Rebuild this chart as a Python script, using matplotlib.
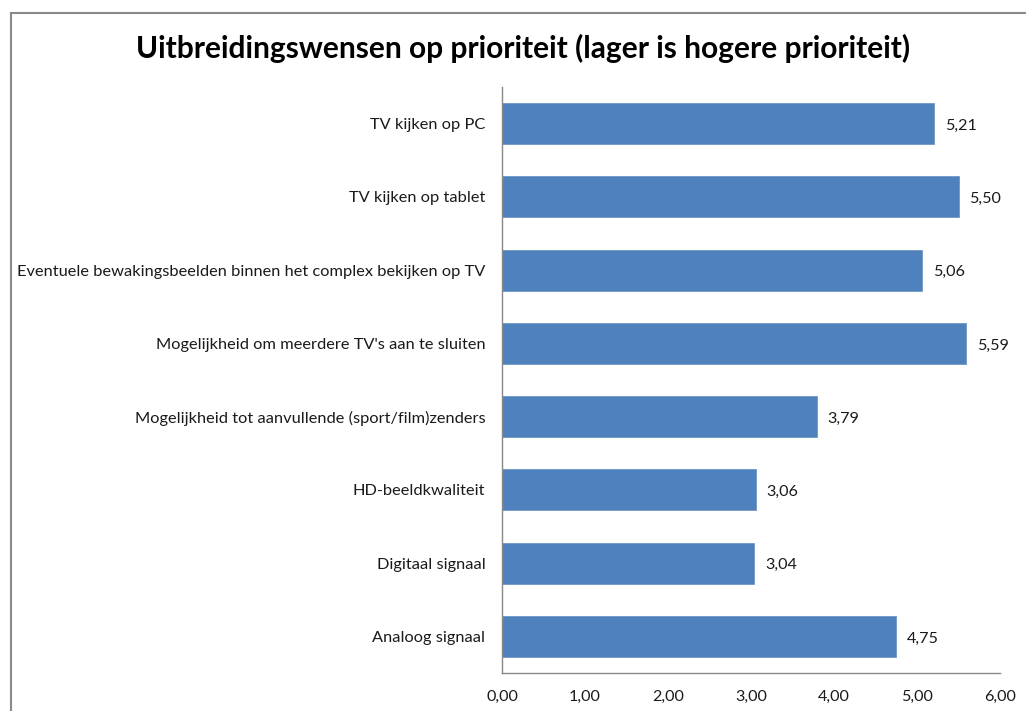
import matplotlib
matplotlib.use("Agg")
import matplotlib.pyplot as plt
from matplotlib.lines import Line2D

# Data (top to bottom as shown)
categories = [
    "TV kijken op PC",
    "TV kijken op tablet",
    "Eventuele bewakingsbeelden binnen het complex bekijken op TV",
    "Mogelijkheid om meerdere TV's aan te sluiten",
    "Mogelijkheid tot aanvullende (sport/film)zenders",
    "HD-beeldkwaliteit",
    "Digitaal signaal",
    "Analoog signaal",
]
values = [5.21, 5.50, 5.06, 5.59, 3.79, 3.06, 3.04, 4.75]
xticks = [0, 1, 2, 3, 4, 5, 6]

plt.rcParams['font.family'] = ['Lato', 'DejaVu Sans']

fig = plt.figure(figsize=(10.26, 7.11), dpi=100)
ax = fig.add_axes([502 / 1026, 38 / 711, 498 / 1026, 586 / 711])

pos = list(range(len(categories)))
ax.barh(pos, values, height=0.56, color="#4F81BD", edgecolor="#6F97C8", linewidth=0.6)
ax.set_ylim(len(categories) - 0.5, -0.5)
ax.set_xlim(0, 6)

ax.set_yticks(pos)
ax.set_yticklabels(categories, fontsize=11.8, color="#1a1a1a")
ax.set_xticks(xticks)
ax.set_xticklabels([f"{t:.2f}".replace(".", ",") for t in xticks], fontsize=11.6, color="#1a1a1a")
ax.tick_params(axis="y", length=0, pad=12)
ax.tick_params(axis="x", length=0, pad=12)

for s in ["top", "right"]:
    ax.spines[s].set_visible(False)
for s in ["left", "bottom"]:
    ax.spines[s].set_color("#888888")
    ax.spines[s].set_linewidth(1)

for p, v in zip(pos, values):
    ax.text(v + 0.13, p + 0.03, f"{v:.2f}".replace(".", ","), va="center", ha="left",
            fontsize=11.6, color="#1a1a1a")

fig.text(523 / 1026, 1 - 48 / 711, "Uitbreidingswensen op prioriteit (lager is hogere prioriteit)",
         ha="center", va="center", fontsize=21.5, fontweight="bold", color="black")

# chart frame (left and top edges visible)
fig.add_artist(Line2D([11 / 1026, 11 / 1026], [0, 1 - 13 / 711], transform=fig.transFigure,
                      color="#8a8a8a", linewidth=1.5))
fig.add_artist(Line2D([11 / 1026, 1], [1 - 13 / 711, 1 - 13 / 711], transform=fig.transFigure,
                      color="#8a8a8a", linewidth=1.5))

fig.savefig("out.png", dpi=100, facecolor="white")
